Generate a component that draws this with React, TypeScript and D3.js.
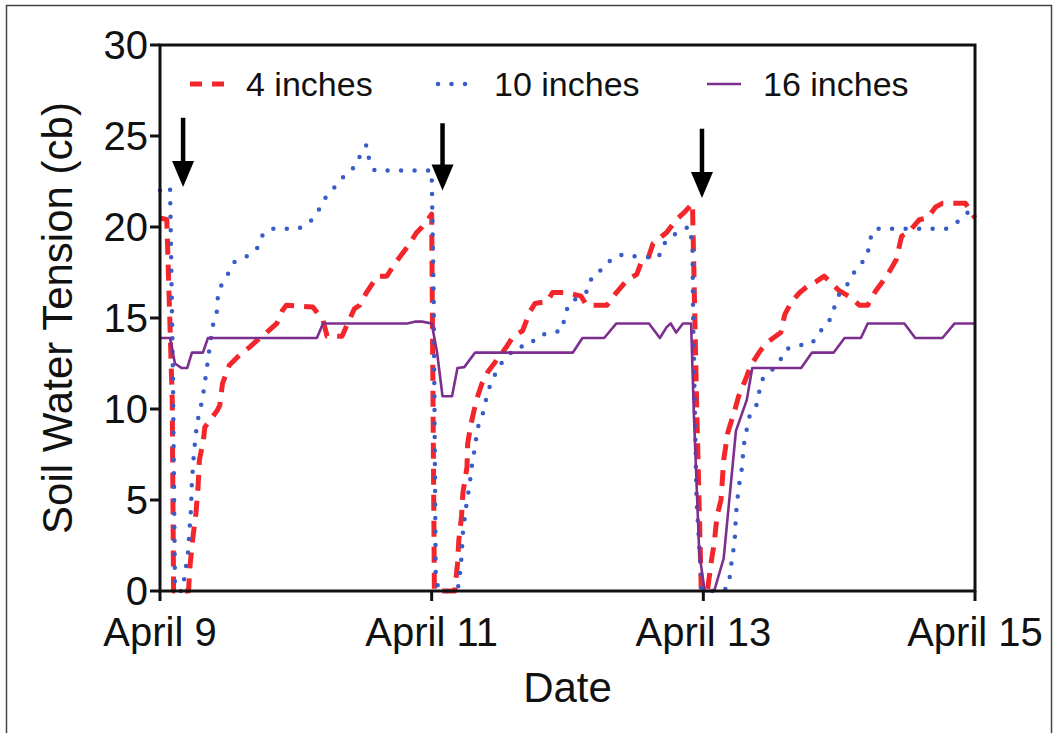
import * as d3 from "d3";

const WIDTH = 1058;
const HEIGHT = 733;
const MARGIN = { top: 45, right: 83, bottom: 142, left: 160 };

// days since April 9, soil water tension (cb)
const fourInch: [number, number][] = [
  [0, 20.5], [0.05, 20.4], [0.09, 10.5], [0.1, 0], [0.21, 0], [0.22, 1.3], [0.24, 2.8],
  [0.265, 4.3], [0.28, 5.7], [0.29, 7.2], [0.32, 8.3], [0.33, 9.0], [0.37, 9.4], [0.42, 9.9],
  [0.44, 10.2], [0.46, 11.4], [0.51, 12.4], [0.59, 13.0], [0.66, 13.4], [0.72, 13.8],
  [0.77, 14.1], [0.86, 14.7], [0.9, 15.4], [0.93, 15.7], [1.125, 15.6], [1.2, 14.9],
  [1.23, 14.0], [1.34, 14.0], [1.37, 14.5], [1.43, 15.5], [1.47, 15.7], [1.52, 16.4],
  [1.6, 17.3], [1.67, 17.3], [1.73, 18.0], [1.82, 18.9], [1.89, 19.7], [1.93, 20.0],
  [2.0, 20.7], [2.02, 0], [2.17, 0], [2.19, 1.5], [2.2, 2.8], [2.22, 4.1], [2.23, 5.4],
  [2.26, 6.8], [2.265, 8.1], [2.29, 9.2], [2.33, 10.5], [2.37, 11.4], [2.41, 12.0],
  [2.48, 12.7], [2.55, 13.4], [2.6, 14.0], [2.67, 14.3], [2.72, 15.3], [2.76, 15.8],
  [2.85, 15.9], [2.89, 16.4], [2.99, 16.4], [3.1, 16.2], [3.14, 15.7], [3.29, 15.7],
  [3.36, 16.4], [3.44, 17.1], [3.51, 17.4], [3.54, 18.0], [3.59, 18.2], [3.63, 19.1],
  [3.73, 19.7], [3.8, 20.4], [3.86, 20.8], [3.92, 21.3], [3.95, 10.5], [3.985, 0],
  [4.03, 0], [4.06, 1.7], [4.08, 2.6], [4.1, 4.1], [4.13, 5.0], [4.15, 7.2], [4.18, 8.7],
  [4.23, 9.9], [4.26, 10.7], [4.32, 11.8], [4.35, 12.4], [4.41, 13.1], [4.46, 13.6],
  [4.57, 14.2], [4.6, 15.2], [4.65, 15.9], [4.71, 16.4], [4.76, 16.7], [4.83, 17.0],
  [4.89, 17.3], [4.93, 17.0], [5.0, 16.5], [5.07, 16.2], [5.15, 15.7], [5.21, 15.7],
  [5.27, 16.5], [5.35, 17.3], [5.42, 18.2], [5.46, 19.5], [5.51, 19.7], [5.59, 20.4],
  [5.65, 20.5], [5.71, 21.1], [5.76, 21.3], [5.93, 21.3], [6.0, 20.5],
];

const tenInch: [number, number][] = [
  [0, 22.0], [0.074, 22.2], [0.095, 12], [0.11, 0.3], [0.13, 0], [0.165, 0], [0.206, 2.1],
  [0.228, 4.5], [0.235, 6.0], [0.25, 7.6], [0.272, 9.2], [0.294, 9.9], [0.316, 10.7],
  [0.331, 11.5], [0.346, 12.3], [0.36, 13.1], [0.39, 14.6], [0.42, 15.4], [0.426, 16.2],
  [0.456, 16.9], [0.507, 17.5], [0.55, 18.1], [0.64, 18.4], [0.713, 18.8], [0.75, 19.5],
  [0.81, 19.9], [1.015, 19.9], [1.096, 20.2], [1.16, 20.8], [1.206, 21.5], [1.265, 22.0],
  [1.32, 22.5], [1.38, 23.0], [1.45, 23.4], [1.48, 24.1], [1.52, 24.5], [1.54, 23.7],
  [1.58, 23.1], [2.0, 23.1], [2.015, 16], [2.03, 0.6], [2.06, 0], [2.17, 0], [2.2, 0.3],
  [2.22, 1.9], [2.23, 3.2], [2.26, 5.0], [2.28, 5.8], [2.29, 6.6], [2.31, 7.5], [2.34, 9.0],
  [2.375, 9.7], [2.4, 10.5], [2.43, 11.3], [2.46, 11.8], [2.5, 12.4], [2.56, 12.9],
  [2.625, 13.4], [2.72, 13.5], [2.78, 14.0], [2.87, 14.2], [2.96, 14.3], [2.98, 15.1],
  [3.01, 15.8], [3.15, 16.5], [3.18, 17.3], [3.26, 17.7], [3.33, 18.3], [3.41, 18.5],
  [3.47, 18.4], [3.67, 18.3], [3.7, 19.0], [3.77, 19.5], [3.85, 19.9], [3.9, 20.0],
  [3.92, 18.9], [3.925, 14.9], [3.95, 5.0], [3.99, 0], [4.14, 0], [4.18, 0.2], [4.2, 1.0],
  [4.21, 1.8], [4.23, 2.6], [4.24, 4.2], [4.26, 5.7], [4.28, 6.5], [4.3, 8.1], [4.32, 8.9],
  [4.34, 9.6], [4.39, 10.2], [4.43, 11.6], [4.5, 12.1], [4.56, 12.6], [4.61, 13.3],
  [4.71, 13.5], [4.8, 13.6], [4.85, 14.2], [4.92, 14.7], [4.96, 15.5], [5.0, 16.3],
  [5.05, 16.7], [5.1, 17.4], [5.15, 17.9], [5.21, 18.4], [5.22, 19.2], [5.26, 19.9],
  [5.79, 19.9], [5.86, 20.2], [5.93, 20.7], [6.0, 21.1],
];

const sixteenInch: [number, number][] = [
  [0, 13.9], [0.074, 13.9], [0.11, 12.5], [0.16, 12.25], [0.2, 12.25], [0.235, 13.1],
  [0.316, 13.1], [0.353, 13.9], [1.155, 13.9], [1.2, 14.7], [1.82, 14.7], [1.875, 14.8],
  [1.93, 14.8], [2.0, 14.7], [2.04, 13.1], [2.08, 10.7], [2.15, 10.7], [2.19, 12.25],
  [2.24, 12.3], [2.32, 13.1], [3.04, 13.1], [3.11, 13.9], [3.27, 13.9], [3.36, 14.7],
  [3.6, 14.7], [3.68, 13.9], [3.73, 14.5], [3.76, 14.7], [3.8, 14.2], [3.85, 14.7],
  [3.91, 14.7], [3.93, 9.8], [3.97, 2.1], [4.01, 0], [4.08, 0], [4.15, 1.8], [4.24, 8.8],
  [4.32, 10.5], [4.36, 12.25], [4.72, 12.25], [4.8, 13.1], [4.96, 13.1], [5.04, 13.9],
  [5.16, 13.9], [5.21, 14.7], [5.48, 14.7], [5.56, 13.9], [5.76, 13.9], [5.85, 14.7],
  [6.0, 14.7],
];

// irrigation events: [day, arrow top, arrow tip]
const arrows: [number, number, number][] = [
  [0.17, 26.0, 22.2],
  [2.08, 25.7, 22.0],
  [3.99, 25.4, 21.6],
];

const xTicks = [0, 2, 4, 6];
const xTickLabels = ["April 9", "April 11", "April 13", "April 15"];
const yTicks = [0, 5, 10, 15, 20, 25, 30];

const series = [
  { name: "4 inches", data: fourInch, color: "#f2262b", width: 5, dash: "16 10", cap: "butt" },
  { name: "10 inches", data: tenInch, color: "#3a5cc6", width: 4.5, dash: "0 13.5", cap: "round" },
  { name: "16 inches", data: sixteenInch, color: "#7d2f90", width: 2.6, dash: "none", cap: "butt" },
];

const legendX = [190, 438, 707];

export default function App() {
  const boundsWidth = WIDTH - MARGIN.left - MARGIN.right;
  const boundsHeight = HEIGHT - MARGIN.top - MARGIN.bottom;

  const xScale = d3.scaleLinear().domain([0, 6]).range([0, boundsWidth]);
  const yScale = d3.scaleLinear().domain([0, 30]).range([boundsHeight, 0]);

  const line = d3
    .line<[number, number]>()
    .x((d) => xScale(d[0]))
    .y((d) => yScale(d[1]));

  const font = "'Liberation Sans', Arial, Helvetica, sans-serif";

  return (
    <svg
      width={WIDTH}
      height={HEIGHT}
      style={{ position: "absolute", left: 0, top: 0, display: "block", background: "#fff" }}
      fontFamily={font}
    >
      <rect x={6.5} y={5.5} width={1045} height={760} fill="none" stroke="#444" strokeWidth={1.5} />

      <g transform={`translate(${MARGIN.left},${MARGIN.top})`}>
        {series.map((s) => (
          <path
            key={s.name}
            d={line(s.data) ?? ""}
            fill="none"
            stroke={s.color}
            strokeWidth={s.width}
            strokeDasharray={s.dash}
            strokeLinecap={s.cap as any}
            strokeLinejoin="round"
          />
        ))}

        {/* plot frame */}
        <rect x={0} y={0} width={boundsWidth} height={boundsHeight} fill="none" stroke="#111" strokeWidth={3} />

        {yTicks.map((t) => (
          <g key={t} transform={`translate(0,${yScale(t)})`}>
            <line x1={-10} x2={0} stroke="#111" strokeWidth={3} />
            <text x={-12} dy="0.36em" textAnchor="end" fontSize={40} fill="#111">
              {t}
            </text>
          </g>
        ))}

        {xTicks.map((t, i) => (
          <g key={t} transform={`translate(${xScale(t)},${boundsHeight})`}>
            <line y1={0} y2={10} stroke="#111" strokeWidth={3} />
            <text y={55} textAnchor="middle" fontSize={40} fill="#111">
              {xTickLabels[i]}
            </text>
          </g>
        ))}

        {arrows.map(([d, top, tip], i) => {
          const x = xScale(d);
          const y0 = yScale(top);
          const y1 = yScale(tip);
          return (
            <g key={i}>
              <line x1={x} x2={x} y1={y0} y2={y1 - 20} stroke="#000" strokeWidth={4.5} />
              <path d={`M${x - 11},${y1 - 26} L${x + 11},${y1 - 26} L${x},${y1} Z`} fill="#000" />
            </g>
          );
        })}
      </g>

      {/* legend */}
      {series.map((s, i) => (
        <g key={s.name}>
          <line
            x1={legendX[i]}
            x2={legendX[i] + 34}
            y1={84}
            y2={84}
            stroke={s.color}
            strokeWidth={s.width}
            strokeDasharray={i === 0 ? "12 10" : s.dash}
            strokeLinecap={s.cap as any}
          />
          <text x={legendX[i] + 56} y={96} fontSize={34} fill="#111">
            {s.name}
          </text>
        </g>
      ))}

      <text
        transform={`translate(72,${MARGIN.top + boundsHeight / 2}) rotate(-90)`}
        textAnchor="middle"
        fontSize={42}
        fill="#111"
      >
        Soil Water Tension (cb)
      </text>
      <text x={MARGIN.left + boundsWidth / 2} y={702} textAnchor="middle" fontSize={42} fill="#111">
        Date
      </text>
    </svg>
  );
}
